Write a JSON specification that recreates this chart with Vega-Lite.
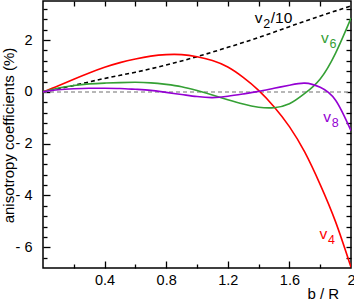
{
  "$schema": "https://vega.github.io/schema/vega-lite/v6.json",
  "width": 308,
  "height": 267,
  "autosize": {"type": "none"},
  "padding": {"left": 43, "top": 1, "right": 3, "bottom": 33},
  "config": {
    "view": {"stroke": "black", "strokeWidth": 1.5},
    "font": "Liberation Sans",
    "axis": {"domain": false, "grid": false, "tickColor": "black", "tickWidth": 1.3, "labelFont": "Liberation Sans", "labelFontSize": 14.5, "labelColor": "black", "titleFont": "Liberation Sans", "titleFontSize": 15, "titleFontWeight": "normal", "titleColor": "black"}
  },
  "datasets": {
    "zero": [{"x": 0, "y": 0}, {"x": 2, "y": 0}],
    "curves": [
      {"s": "v2", "x": 0, "y": 0}, {"s": "v2", "x": 0.2, "y": 0.25}, {"s": "v2", "x": 0.4, "y": 0.52}, {"s": "v2", "x": 0.6, "y": 0.76}, {"s": "v2", "x": 0.8, "y": 1.04}, {"s": "v2", "x": 1.0, "y": 1.36}, {"s": "v2", "x": 1.2, "y": 1.72}, {"s": "v2", "x": 1.4, "y": 2.1}, {"s": "v2", "x": 1.6, "y": 2.52}, {"s": "v2", "x": 1.8, "y": 2.93}, {"s": "v2", "x": 2.0, "y": 3.32},
      {"s": "v4", "x": 0, "y": 0}, {"s": "v4", "x": 0.1, "y": 0.24}, {"s": "v4", "x": 0.2, "y": 0.49}, {"s": "v4", "x": 0.3, "y": 0.73}, {"s": "v4", "x": 0.4, "y": 0.95}, {"s": "v4", "x": 0.5, "y": 1.13}, {"s": "v4", "x": 0.6, "y": 1.27}, {"s": "v4", "x": 0.7, "y": 1.38}, {"s": "v4", "x": 0.8, "y": 1.44}, {"s": "v4", "x": 0.9, "y": 1.44}, {"s": "v4", "x": 1.0, "y": 1.36}, {"s": "v4", "x": 1.1, "y": 1.21}, {"s": "v4", "x": 1.2, "y": 0.96}, {"s": "v4", "x": 1.3, "y": 0.56}, {"s": "v4", "x": 1.4, "y": 0.06}, {"s": "v4", "x": 1.5, "y": -0.57}, {"s": "v4", "x": 1.6, "y": -1.34}, {"s": "v4", "x": 1.7, "y": -2.33}, {"s": "v4", "x": 1.8, "y": -3.58}, {"s": "v4", "x": 1.9, "y": -5.02}, {"s": "v4", "x": 2.0, "y": -6.77},
      {"s": "v6", "x": 0, "y": 0}, {"s": "v6", "x": 0.1, "y": 0.15}, {"s": "v6", "x": 0.2, "y": 0.25}, {"s": "v6", "x": 0.3, "y": 0.31}, {"s": "v6", "x": 0.4, "y": 0.34}, {"s": "v6", "x": 0.5, "y": 0.36}, {"s": "v6", "x": 0.6, "y": 0.37}, {"s": "v6", "x": 0.7, "y": 0.35}, {"s": "v6", "x": 0.8, "y": 0.29}, {"s": "v6", "x": 0.9, "y": 0.2}, {"s": "v6", "x": 1.0, "y": 0.05}, {"s": "v6", "x": 1.1, "y": -0.12}, {"s": "v6", "x": 1.2, "y": -0.3}, {"s": "v6", "x": 1.3, "y": -0.47}, {"s": "v6", "x": 1.4, "y": -0.59}, {"s": "v6", "x": 1.5, "y": -0.61}, {"s": "v6", "x": 1.6, "y": -0.46}, {"s": "v6", "x": 1.7, "y": -0.06}, {"s": "v6", "x": 1.8, "y": 0.5}, {"s": "v6", "x": 1.9, "y": 1.5}, {"s": "v6", "x": 2.0, "y": 2.85},
      {"s": "v8", "x": 0, "y": 0}, {"s": "v8", "x": 0.1, "y": 0.08}, {"s": "v8", "x": 0.2, "y": 0.12}, {"s": "v8", "x": 0.3, "y": 0.14}, {"s": "v8", "x": 0.4, "y": 0.14}, {"s": "v8", "x": 0.5, "y": 0.13}, {"s": "v8", "x": 0.6, "y": 0.1}, {"s": "v8", "x": 0.7, "y": 0.06}, {"s": "v8", "x": 0.8, "y": -0.02}, {"s": "v8", "x": 0.9, "y": -0.1}, {"s": "v8", "x": 1.0, "y": -0.18}, {"s": "v8", "x": 1.1, "y": -0.22}, {"s": "v8", "x": 1.2, "y": -0.17}, {"s": "v8", "x": 1.3, "y": -0.08}, {"s": "v8", "x": 1.4, "y": 0.02}, {"s": "v8", "x": 1.5, "y": 0.14}, {"s": "v8", "x": 1.6, "y": 0.26}, {"s": "v8", "x": 1.7, "y": 0.34}, {"s": "v8", "x": 1.8, "y": 0.18}, {"s": "v8", "x": 1.9, "y": -0.32}, {"s": "v8", "x": 2.0, "y": -1.5}
    ],
    "labels": [
      {"s": "v2", "x": 1.375, "y": 2.65, "sub": "2", "suf": "/10"},
      {"s": "v6", "x": 1.805, "y": 1.88, "sub": "6", "suf": ""},
      {"s": "v8", "x": 1.82, "y": -1.18, "sub": "8", "suf": ""},
      {"s": "v4", "x": 1.795, "y": -5.68, "sub": "4", "suf": ""}
    ]
  },
  "layer": [
    {
      "data": {"name": "zero"},
      "mark": {"type": "line", "color": "#a0a0a0", "strokeDash": [4, 3], "strokeWidth": 1.5, "clip": true},
      "encoding": {
        "x": {"field": "x", "type": "quantitative", "scale": {"domain": [0, 2], "nice": false, "zero": false},
          "axis": {"orient": "bottom", "values": [0.4, 0.8, 1.2, 1.6, 2], "format": ".1~f", "ticks": false, "labelPadding": 5, "labelFlush": false, "title": "b / R", "titleAnchor": "start", "titleAlign": "left", "titleX": 264, "titleY": 30, "titleBaseline": "alphabetic"}},
        "y": {"field": "y", "type": "quantitative", "scale": {"domain": [-6.8, 3.51], "nice": false, "zero": false},
          "axis": {"orient": "left", "values": [-6, -4, -2, 0, 2], "ticks": false, "labelPadding": 11, "labelExpr": "datum.value < 0 ? '- ' + abs(datum.value) : datum.label", "title": "anisotropy coefficients (%)", "titleAngle": -90, "titleX": -30, "titleY": 134, "titleAnchor": "middle", "titleAlign": "center", "titleBaseline": "alphabetic"}}
      }
    },
    {
      "data": {"name": "curves"},
      "transform": [{"filter": "datum.s === 'v2'"}],
      "mark": {"type": "line", "color": "black", "strokeDash": [4, 3], "strokeWidth": 1.6, "interpolate": "natural", "clip": true},
      "encoding": {
        "x": {"field": "x", "type": "quantitative", "scale": {"domain": [0, 2], "nice": false, "zero": false},
          "axis": {"orient": "bottom", "values": [0.4, 0.8, 1.2, 1.6], "labels": false, "tickSize": -7, "title": null}},
        "y": {"field": "y", "type": "quantitative", "scale": {"domain": [-6.8, 3.51], "nice": false, "zero": false},
          "axis": {"orient": "left", "values": [-6, -4, -2, 0, 2], "labels": false, "tickSize": -7, "title": null}}
      }
    },
    {
      "data": {"name": "curves"},
      "transform": [{"filter": "datum.s === 'v4'"}],
      "mark": {"type": "line", "color": "#ff0000", "strokeWidth": 1.6, "interpolate": "natural", "clip": true},
      "encoding": {
        "x": {"field": "x", "type": "quantitative", "scale": {"domain": [0, 2], "nice": false, "zero": false},
          "axis": {"orient": "bottom", "values": [0.2, 0.6, 1.0, 1.4, 1.8], "labels": false, "tickSize": -4, "title": null}},
        "y": {"field": "y", "type": "quantitative", "scale": {"domain": [-6.8, 3.51], "nice": false, "zero": false},
          "axis": {"orient": "left", "values": [3.2, 2.8, 2.4, 1.6, 1.2, 0.8, 0.4, -0.4, -0.8, -1.2, -1.6, -2.4, -2.8, -3.2, -3.6, -4.4, -4.8, -5.2, -5.6, -6.4], "labels": false, "tickSize": -4, "title": null}}
      }
    },
    {
      "data": {"name": "curves"},
      "transform": [{"filter": "datum.s === 'v6'"}],
      "mark": {"type": "line", "color": "#35a035", "strokeWidth": 1.6, "interpolate": "natural", "clip": true},
      "encoding": {
        "x": {"field": "x", "type": "quantitative", "scale": {"domain": [0, 2], "nice": false, "zero": false},
          "axis": {"orient": "top", "values": [0.2, 0.4, 0.6, 0.8, 1.0, 1.2, 1.4, 1.6, 1.8], "labels": false, "tickSize": -5, "title": null}},
        "y": {"field": "y", "type": "quantitative", "scale": {"domain": [-6.8, 3.51], "nice": false, "zero": false},
          "axis": {"orient": "right", "values": [3.2, 2.8, 2.4, 2.0, 1.6, 1.2, 0.8, 0.4, 0, -0.4, -0.8, -1.2, -1.6, -2.0, -2.4, -2.8, -3.2, -3.6, -4.0, -4.4, -4.8, -5.2, -5.6, -6.0, -6.4], "labels": false, "tickSize": -5, "title": null}}
      }
    },
    {
      "data": {"name": "curves"},
      "transform": [{"filter": "datum.s === 'v8'"}],
      "mark": {"type": "line", "color": "#9400d3", "strokeWidth": 1.6, "interpolate": "natural", "clip": true},
      "encoding": {
        "x": {"field": "x", "type": "quantitative", "scale": {"domain": [0, 2], "nice": false, "zero": false}, "axis": null},
        "y": {"field": "y", "type": "quantitative", "scale": {"domain": [-6.8, 3.51], "nice": false, "zero": false}, "axis": null}
      }
    },
    {
      "data": {"name": "labels"},
      "mark": {"type": "text", "align": "left", "baseline": "alphabetic", "fontSize": 15.5, "font": "Liberation Sans"},
      "encoding": {
        "x": {"field": "x", "type": "quantitative", "axis": null},
        "y": {"field": "y", "type": "quantitative", "axis": null},
        "text": {"value": "v"},
        "color": {"field": "s", "type": "nominal", "scale": {"domain": ["v2", "v4", "v6", "v8"], "range": ["black", "#ff0000", "#35a035", "#9400d3"]}, "legend": null}
      }
    },
    {
      "data": {"name": "labels"},
      "mark": {"type": "text", "align": "left", "baseline": "alphabetic", "fontSize": 12.5, "font": "Liberation Sans", "dx": 8.5, "dy": 5},
      "encoding": {
        "x": {"field": "x", "type": "quantitative", "axis": null},
        "y": {"field": "y", "type": "quantitative", "axis": null},
        "text": {"field": "sub"},
        "color": {"field": "s", "type": "nominal", "scale": {"domain": ["v2", "v4", "v6", "v8"], "range": ["black", "#ff0000", "#35a035", "#9400d3"]}, "legend": null}
      }
    },
    {
      "data": {"name": "labels"},
      "mark": {"type": "text", "align": "left", "baseline": "alphabetic", "fontSize": 15.5, "font": "Liberation Sans", "dx": 16},
      "encoding": {
        "x": {"field": "x", "type": "quantitative", "axis": null},
        "y": {"field": "y", "type": "quantitative", "axis": null},
        "text": {"field": "suf"},
        "color": {"field": "s", "type": "nominal", "scale": {"domain": ["v2", "v4", "v6", "v8"], "range": ["black", "#ff0000", "#35a035", "#9400d3"]}, "legend": null}
      }
    }
  ],
  "resolve": {"axis": {"x": "independent", "y": "independent"}}
}
